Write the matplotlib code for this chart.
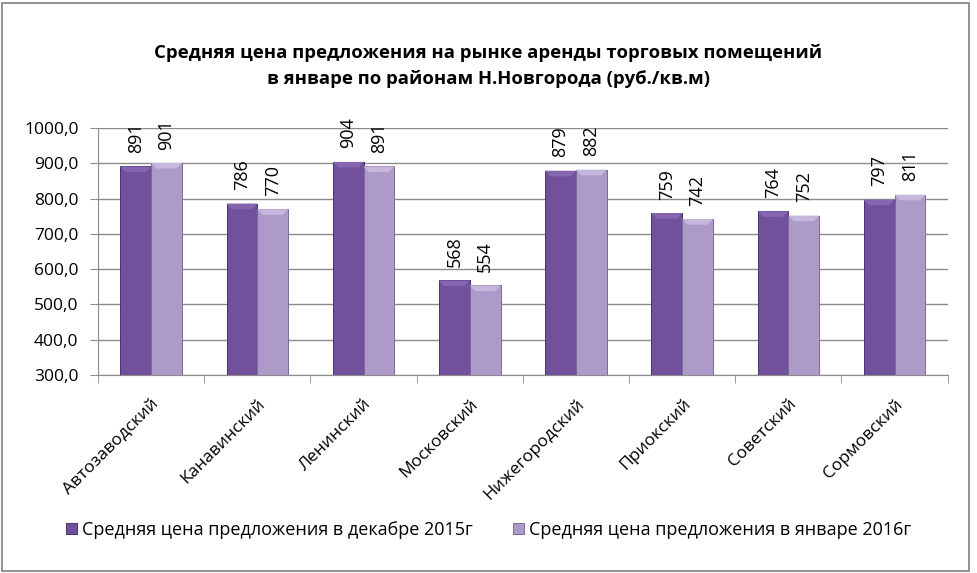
import numpy as np
import matplotlib.pyplot as plt
from matplotlib.patches import Polygon

plt.rcParams['font.family'] = ['Open Sans', 'DejaVu Sans']

districts = ['Автозаводский', 'Канавинский', 'Ленинский', 'Московский',
             'Нижегородский', 'Приокский', 'Советский', 'Сормовский']
dec_2015 = [891, 786, 904, 568, 879, 759, 764, 797]
jan_2016 = [901, 770, 891, 554, 882, 742, 752, 811]
labels = ['Средняя цена предложения в декабре 2015г',
          'Средняя цена предложения в январе 2016г']
title = 'Средняя цена предложения на рынке аренды торговых помещений\nв январе по районам Н.Новгорода (руб./кв.м)'

dark = '#71509c'
light = '#ad9ac9'

fig = plt.figure(figsize=(9.77, 5.73), dpi=100)
ax = fig.add_axes([0.1003, 0.3455, 0.8697, 0.4311])

x = np.arange(len(districts))
w = 0.29
b1 = ax.bar(x - w / 2, dec_2015, w, color=dark, edgecolor='#4a3270', linewidth=0.7, label=labels[0], zorder=3)
b2 = ax.bar(x + w / 2, jan_2016, w, color=light, edgecolor='#7d6a99', linewidth=0.7, label=labels[1], zorder=3)

# soft bevel on top of each bar
for bars, top_col in ((b1, '#8565b0'), (b2, '#c6b7dc')):
    for r in bars:
        x0, x1, t = r.get_x(), r.get_x() + r.get_width(), r.get_height()
        d, h = 0.05, 16
        ax.add_patch(Polygon([(x0, t), (x1, t), (x1 - d, t - h), (x0 + d, t - h)],
                             closed=True, facecolor=top_col, edgecolor='none', zorder=4))

for bars, vals in ((b1, dec_2015), (b2, jan_2016)):
    for r, v in zip(bars, vals):
        ax.text(r.get_x() + r.get_width() / 2, v + 38, str(v), rotation=90,
                ha='center', va='bottom', fontsize=13)

ax.set_ylim(300, 1000)
ax.set_xlim(-0.5, len(districts) - 0.5)
ax.set_yticks(np.arange(300, 1001, 100))
ax.set_yticklabels([f'{v},0' for v in range(300, 1001, 100)], fontsize=12.5)
ax.yaxis.grid(True, color='#8c8c8c', linewidth=1, zorder=0)
ax.set_axisbelow(True)

ax.set_xticks(x)
ax.set_xticklabels(districts, rotation=45, ha='right', rotation_mode='anchor', fontsize=12.5)
ax.tick_params(axis='x', length=0, pad=15)
ax.set_xticks(np.arange(-0.5, len(districts)), minor=True)
ax.tick_params(axis='x', which='minor', length=6, color='#8c8c8c')
ax.tick_params(axis='y', length=6, color='#8c8c8c', direction='out', pad=8)

for s in ('top', 'right'):
    ax.spines[s].set_visible(False)
for s in ('left', 'bottom'):
    ax.spines[s].set_color('#8c8c8c')

fig.text(0.5, 0.885, title, ha='center', va='center', fontsize=13.3, fontweight='bold', linespacing=1.6)

fig.legend(handles=[b1, b2], labels=labels, loc='center', bbox_to_anchor=(0.5, 0.075),
           ncol=2, frameon=False, fontsize=13, handlelength=0.6, handleheight=0.6,
           handletextpad=0.3, columnspacing=2.2)

fig.patches.append(plt.Rectangle((0.002, 0.004), 0.99, 0.99, transform=fig.transFigure,
                                 fill=False, edgecolor='#7f7f7f', linewidth=1.2))

fig.savefig('out.png', dpi=100)
